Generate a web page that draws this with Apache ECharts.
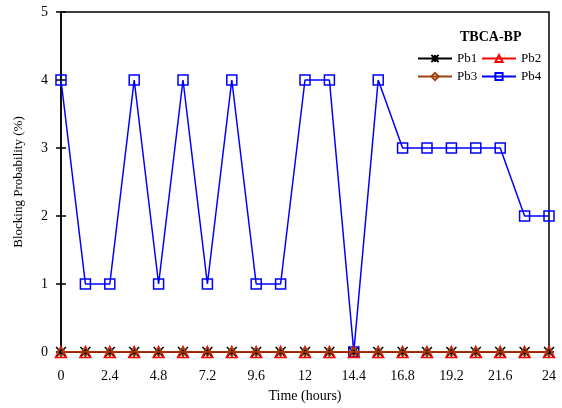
<!DOCTYPE html>
<html><head><meta charset="utf-8">
<script src="https://cdn.jsdelivr.net/npm/echarts@6/dist/echarts.min.js"></script>
<style>html,body{margin:0;padding:0;background:#fff}#c{width:562px;height:408px}</style>
</head><body><div id="c"></div>
<script>
const times = [0,1.2,2.4,3.6,4.8,6.0,7.2,8.4,9.6,10.8,12,13.2,14.4,15.6,16.8,18,19.2,20.4,21.6,22.8,24];
const pb1 = [0,0,0,0,0,0,0,0,0,0,0,0,0,0,0,0,0,0,0,0,0];
const pb2 = [0,0,0,0,0,0,0,0,0,0,0,0,0,0,0,0,0,0,0,0,0];
const pb3 = [0,0,0,0,0,0,0,0,0,0,0,0,0,0,0,0,0,0,0,0,0];
const pb4 = [4,1,1,4,1,4,1,4,1,1,4,4,0,4,3,3,3,3,3,2,2];
const seriesNames = ['Pb1','Pb2','Pb3','Pb4'];
const title = 'TBCA-BP';
const xName = 'Time (hours)';
const yName = 'Blocking Probability (%)';

const font = 'Liberation Serif';
const pair = (arr) => times.map((t,i)=>[t, arr[i]]);
const star = 'path://M0,0L10,10M10,0L0,10M5,0L5,10M0,5L10,5';
const chart = echarts.init(document.getElementById('c'), null, {renderer:'canvas'});
const legendPos = [[417,52],[481,52],[417,70],[481,70]];
const legends = seriesNames.map((n,i)=>({data:[n],left:legendPos[i][0],top:legendPos[i][1],padding:0,
  itemWidth:34,itemHeight:9,textStyle:{fontFamily:font,fontSize:13,color:'#000'}}));
chart.setOption({
  animation:false,
  backgroundColor:'#fff',
  textStyle:{fontFamily:font},
  grid:{left:61,right:13,top:12,bottom:55,show:true,borderColor:'#000',borderWidth:1.5},
  title:{text:title,left:455,top:25,textStyle:{fontFamily:font,fontSize:14,fontWeight:'bold',color:'#000'}},
  legend:legends,
  xAxis:{type:'value',min:0,max:24,interval:2.4,name:xName,nameLocation:'middle',nameGap:37,
    nameTextStyle:{fontFamily:font,fontSize:14,color:'#000'},
    axisLine:{lineStyle:{color:'#000',width:1.5}},
    axisTick:{show:false},
    splitLine:{show:false},
    axisLabel:{color:'#000',fontFamily:font,fontSize:14,margin:17,formatter:v=>String(+v.toFixed(1))}},
  yAxis:[
    {type:'value',min:0,max:5,interval:1,name:yName,nameLocation:'middle',nameGap:36,
    nameTextStyle:{fontFamily:font,fontSize:13,color:'#000'},
    axisLine:{show:true,lineStyle:{color:'#000',width:1.5}},
    axisTick:{show:true,length:5,lineStyle:{color:'#000',width:1.5}},
    splitLine:{show:false},
    axisLabel:{color:'#000',fontFamily:font,fontSize:14,margin:13}},
    {type:'value',min:0,max:5,interval:1,position:'left',
    axisLine:{show:false},
    axisTick:{show:true,inside:true,length:5,lineStyle:{color:'#000',width:1.5}},
    splitLine:{show:false},axisLabel:{show:false}}
  ],
  series:[
    {name:'Pb4',type:'line',data:pair(pb4),symbol:'rect',symbolSize:10,z:2,
      lineStyle:{color:'#0000ff',width:1.5},
      itemStyle:{color:'rgba(255,255,255,0)',borderColor:'#0000ff',borderWidth:1.5}},
    {name:'Pb1',type:'line',data:pair(pb1),symbol:star,symbolSize:10,z:3,
      lineStyle:{color:'#000',width:1.5},
      itemStyle:{color:'#000',borderColor:'#000',borderWidth:1.5}},
    {name:'Pb2',type:'line',data:pair(pb2),symbol:'triangle',symbolSize:11,z:4,
      lineStyle:{color:'#ff0000',width:1.5},
      itemStyle:{color:'rgba(255,255,255,0)',borderColor:'#ff0000',borderWidth:1.5}},
    {name:'Pb3',type:'line',data:pair(pb3),symbol:'diamond',symbolSize:8,z:5,
      lineStyle:{color:'#a0400a',width:1.5},
      itemStyle:{color:'rgba(255,255,255,0)',borderColor:'#a0400a',borderWidth:1.5}}
  ]
});
</script></body></html>
